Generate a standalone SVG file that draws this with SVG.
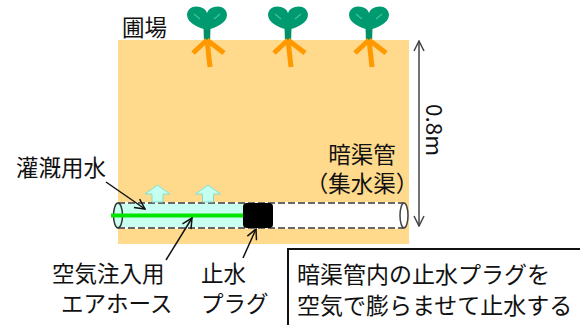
<svg xmlns="http://www.w3.org/2000/svg" width="580" height="325" viewBox="0 0 580 325">
  <defs>
    <style>
      .lbl { font-family: "Noto Sans CJK JP", "Noto Sans", sans-serif; font-size: 22.5px; fill: #111; }
      .box { font-family: "Noto Sans CJK JP", "Noto Sans", sans-serif; font-size: 23px; fill: #111; }
      .lead { stroke: #111; stroke-width: 1.5; fill: none; marker-end: url(#open); }
      .dash { stroke: #3a3a3a; stroke-width: 1.5; stroke-dasharray: 7 3; fill: none; }
      .dashbg { stroke: #ffffff; stroke-width: 1.5; fill: none; }
      .lift { fill: #c4fff0; stroke: #7fe3cc; stroke-width: 1; }
    </style>
    <marker id="open" viewBox="0 0 12 12" refX="11" refY="6" markerWidth="12" markerHeight="12" markerUnits="userSpaceOnUse" orient="auto-start-reverse">
      <path d="M1,1 L11,6 L1,11" fill="none" stroke="#111" stroke-width="1.5"/>
    </marker>
    <marker id="dim" viewBox="0 0 12 12" refX="11" refY="6" markerWidth="12" markerHeight="12" markerUnits="userSpaceOnUse" orient="auto-start-reverse">
      <path d="M1,1 L11,6 L1,11" fill="none" stroke="#444" stroke-width="1.5"/>
    </marker>
    <!-- young plant: leaves, stem and roots, centred on x=0 -->
    <g id="seedling">
      <path d="M-3.5,27 L3.5,27 L3,43 L-3,43 Z" fill="#008f66"/>
      <path d="M0,30 C-8,28 -20,23 -20,15 C-20,8 -13,5 -7,7 C-3,8 -1,10 0,13 C1,10 3,8 7,7 C13,5 20,8 20,15 C20,23 8,28 0,30 Z" fill="#009a70"/>
      <path d="M-13,14 L-7,19 M13,14 L7,19" stroke="#3cc196" stroke-width="1.5" fill="none"/>
      <path d="M0,40 L-14,53 M0,40 L17,53 M0,40 L3,67" stroke="#ff9900" stroke-width="5" fill="none"/>
    </g>
  </defs>

  <!-- soil -->
  <rect id="field" x="118" y="40" width="291" height="204" fill="#ffda8c"/>

  <g id="plants">
    <use href="#seedling" transform="translate(207,0)"/>
    <use href="#seedling" transform="translate(288,0)"/>
    <use href="#seedling" transform="translate(369,0)"/>
  </g>

  <!-- drainage pipe with air hose and plug -->
  <g id="pipe">
    <rect x="118" y="203" width="125" height="25" fill="#c8fff0"/>
    <rect x="273" y="203" width="131" height="25" fill="#ffffff"/>
    <path class="dashbg" d="M118,203 H404 M118,228 H404"/>
    <path class="dash" d="M118,203 H404 M118,228 H404"/>
    <ellipse cx="118" cy="215.5" rx="4.5" ry="12.5" fill="#c8fff0" stroke="#333" stroke-width="1.5"/>
    <ellipse cx="404" cy="215.5" rx="4" ry="12.5" fill="#ffffff" stroke="#444" stroke-width="1.5"/>
    <line x1="111" y1="215.5" x2="243" y2="215.5" stroke="#00e600" stroke-width="4"/>
  </g>
  <g id="plug">
    <rect x="243" y="203" width="30" height="25" rx="4" fill="#000"/>
  </g>
  <g id="water-rise">
    <polygon class="lift" points="157.5,185 170,194 163,194 163,202 152,202 152,194 145,194"/>
    <polygon class="lift" points="208,185 220.5,194 213.5,194 213.5,202 202.5,202 202.5,194 195.5,194"/>
  </g>

  <g id="connectors">
    <line class="lead" x1="106" y1="182" x2="145" y2="209"/>
    <line class="lead" x1="166" y1="260" x2="192" y2="218"/>
    <line class="lead" x1="243" y1="258" x2="256" y2="229"/>
    <line x1="419" y1="41" x2="419" y2="226" stroke="#444" stroke-width="1.5" marker-start="url(#dim)" marker-end="url(#dim)"/>
  </g>

  <g id="labels">
    <text class="lbl" x="122" y="35.5">圃場</text>
    <text class="lbl" text-anchor="middle"><tspan x="362" y="163">暗渠管</tspan><tspan x="362" y="192">（集水渠）</tspan></text>
    <text class="lbl" x="16" y="176">灌漑用水</text>
    <text class="lbl"><tspan x="52" y="281.5">空気注入用</tspan><tspan x="61" y="311.5">エアホース</tspan></text>
    <text class="lbl"><tspan x="201" y="281.5">止水</tspan><tspan x="201" y="311.5">プラグ</tspan></text>
    <text class="lbl" x="0" y="0" text-anchor="middle" transform="translate(426,130) rotate(90)">0.8m</text>
  </g>

  <g id="note">
    <rect x="288" y="249" width="300" height="90" fill="#fff" stroke="#111" stroke-width="2"/>
    <text class="box"><tspan x="297" y="282.5">暗渠管内の止水プラグを</tspan><tspan x="297" y="313.5">空気で膨らませて止水する</tspan></text>
  </g>
</svg>
